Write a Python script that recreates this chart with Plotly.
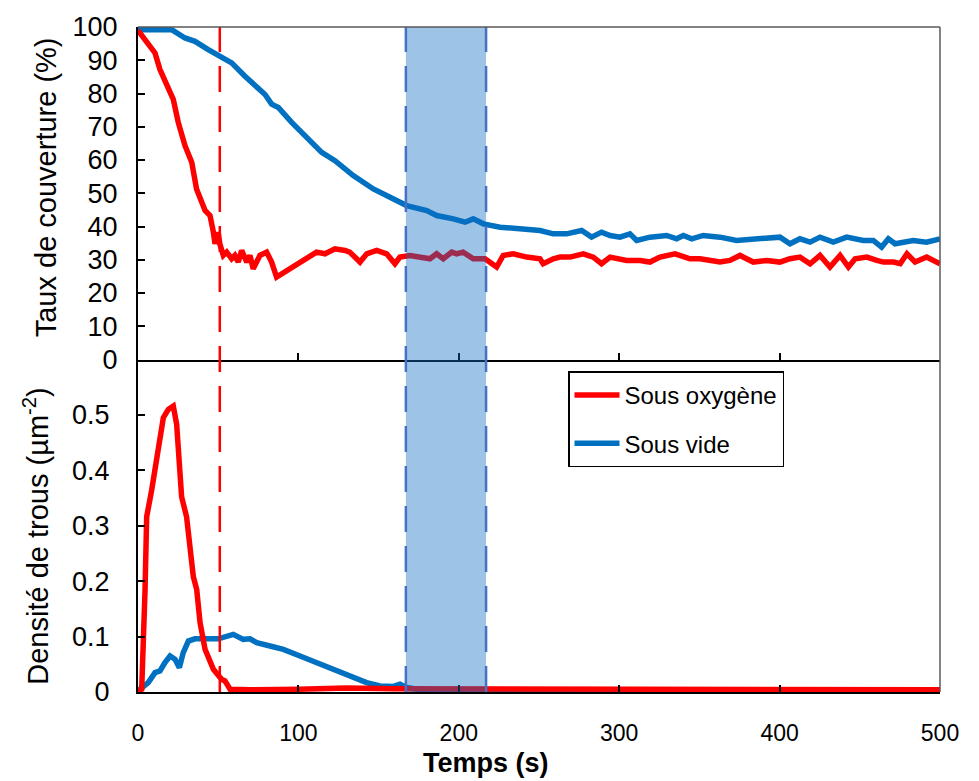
import plotly.graph_objects as go
from plotly.subplots import make_subplots

# ---------------- data ----------------
red_top_t = [0, 2.3, 6.4, 10.6, 13.7, 18.9, 22, 25.1, 29.3, 33.5,
             36.5, 41.8, 44.9, 47, 48, 50, 51, 53.2, 55.3, 58.4,
             60.4, 62.5, 64.6, 67.8, 69.8, 71.8, 76, 80.2, 83.3, 86.4,
             91.6, 102, 111.3, 116.6, 122.8, 129, 132, 138.4, 142.6, 148.8,
             155, 160.2, 163.3, 169.6, 175.8, 182, 186.2, 190.3, 195.6, 198.7,
             202.7, 209, 216.3, 223.6, 227.7, 234, 242.3, 250.6, 252.6, 258.9,
             263.1, 269.3, 277.6, 283.8, 289, 294.3, 304.6, 313, 319.2, 325.4,
             334.8, 344.1, 350.4, 356.6, 362.8, 369, 375.3, 383.6, 392, 400.2,
             406.5, 412.7, 419, 425.2, 431.4, 437.7, 442.9, 447.1, 454.4, 460.6,
             464.8, 471, 475.2, 479.4, 484.5, 491.7, 500]
red_top_v = [99, 97.5, 95.2, 92.2, 87.2, 81.2, 78.2, 71.3, 64.3, 59.3,
             51.3, 44.8, 43.3, 38.3, 34.8, 38.3, 34.8, 31.3, 32.3, 30.3,
             31.3, 29.3, 32.8, 29.3, 31.3, 27.3, 31.3, 32.3, 29.3, 24.8,
             26.3, 29.3, 32.3, 31.8, 33.3, 32.8, 32.3, 29.3, 31.8, 32.8,
             31.8, 28.8, 30.8, 31.3, 30.8, 30.3, 31.8, 30.3, 32.3, 31.8,
             32.3, 30.3, 30.3, 27.8, 31.3, 31.8, 30.8, 30.3, 28.8, 30.3,
             30.8, 30.8, 31.8, 30.8, 28.8, 30.8, 29.8, 29.8, 29.3, 30.8,
             31.8, 30.3, 30.3, 29.8, 29.3, 29.8, 31.3, 29.3, 29.8, 29.3,
             30.3, 30.8, 28.8, 31.3, 27.8, 31.3, 27.8, 30.3, 30.8, 29.8,
             29.3, 29.3, 28.8, 31.8, 29.3, 30.8, 28.8]

blue_top_t = [0, 21, 29.3, 35.5, 43.8, 51.1, 58.4, 66.7, 75, 79.2,
              83.3, 87.5, 95.8, 106.2, 114.5, 122.8, 134.2, 146.7, 157.1, 167.5,
              180, 186.2, 196.6, 203.9, 209, 215.3, 225.7, 240.2, 250.6, 258.9,
              267.2, 276.6, 282.8, 289, 294.3, 300.5, 306.7, 310.9, 319.2, 329.6,
              335.8, 340, 345.2, 352.4, 362.8, 373.2, 387.8, 400.2, 406.5, 412.7,
              419, 425.2, 433.5, 441.8, 452.2, 458.4, 463.6, 467.8, 472, 483.3,
              491.6, 500]
blue_top_v = [99.2, 99.2, 96.7, 95.7, 93.2, 91.2, 89.2, 85.2, 81.7, 79.7,
              76.8, 75.8, 71.3, 66.3, 62.3, 59.8, 55.3, 51.3, 48.8, 46.3,
              44.8, 43.3, 42.3, 41.3, 42.3, 40.8, 39.8, 39.3, 38.8, 37.8,
              37.8, 38.8, 36.8, 38.3, 37.3, 36.8, 37.8, 35.8, 36.8, 37.3,
              36.3, 37.3, 36.3, 37.3, 36.8, 35.8, 36.3, 36.8, 34.8, 36.3,
              35.3, 36.8, 35.3, 36.8, 35.8, 35.8, 33.8, 36.3, 34.8, 35.8,
              35.3, 36.3]

red_bot_t = [0, 2.3, 4.4, 5.4, 8.5, 12.7, 15.8, 18.9, 22, 24.1,
             26.2, 27.2, 30.3, 32.4, 34.5, 36.6, 38.7, 41.8, 47, 52.1,
             54.2, 57.4, 70, 100, 130, 160, 200, 250, 300, 350,
             400, 450, 475, 500]
red_bot_v = [0, 0.005, 0.185, 0.316, 0.364, 0.441, 0.495, 0.51, 0.516, 0.483,
             0.394, 0.352, 0.316, 0.256, 0.208, 0.185, 0.125, 0.077, 0.041, 0.023,
             0.02, 0.005, 0.004, 0.005, 0.007, 0.006, 0.006, 0.005, 0.005, 0.005,
             0.005, 0.005, 0.005, 0.004]

blue_bot_t = [0, 6.4, 10.6, 13.7, 16.8, 20, 23.1, 25.8, 28.2, 31.4,
              35.5, 50, 59.4, 65.6, 69.8, 74, 82.3, 90.6, 101, 111.4,
              121.8, 132.2, 142.5, 150.9, 159.2, 163.3, 167.5, 175.8, 200, 250,
              300, 350, 400, 450, 500]
blue_bot_v = [0.002, 0.017, 0.035, 0.038, 0.053, 0.065, 0.059, 0.044, 0.071, 0.092,
              0.096, 0.096, 0.104, 0.095, 0.096, 0.089, 0.083, 0.077, 0.065, 0.053,
              0.041, 0.029, 0.017, 0.011, 0.010, 0.014, 0.008, 0.004, 0.002, 0.002,
              0.002, 0.002, 0.002, 0.002, 0.002]

series_names = ["Sous oxygène", "Sous vide"]
red_marker_t = 51          # red dashed line (s)
band_t = [167, 217]        # shaded window (s)

x_ticks = [0, 100, 200, 300, 400, 500]
top_ticks = [0, 10, 20, 30, 40, 50, 60, 70, 80, 90, 100]
bot_ticks = [0, 0.1, 0.2, 0.3, 0.4, 0.5]

RED = "#FF0000"
BLUE = "#0070C0"
FONT = "Liberation Sans, Arial, sans-serif"
LW = 5.5

fig = make_subplots(rows=2, cols=1, shared_xaxes=True, vertical_spacing=0)

# top plot
fig.add_trace(go.Scatter(x=blue_top_t, y=blue_top_v, mode="lines", name=series_names[1],
                         line=dict(color=BLUE, width=LW), legendgroup="b", legendrank=2,
                         showlegend=True), row=1, col=1)
fig.add_trace(go.Scatter(x=red_top_t, y=red_top_v, mode="lines", name=series_names[0],
                         line=dict(color=RED, width=LW), legendgroup="a", legendrank=1,
                         showlegend=True), row=1, col=1)
# bottom plot
fig.add_trace(go.Scatter(x=blue_bot_t, y=blue_bot_v, mode="lines", name=series_names[1],
                         line=dict(color=BLUE, width=LW), legendgroup="b",
                         showlegend=False), row=2, col=1)
fig.add_trace(go.Scatter(x=red_bot_t, y=red_bot_v, mode="lines", name=series_names[0],
                         line=dict(color=RED, width=LW), legendgroup="a",
                         showlegend=False), row=2, col=1)

axis_common = dict(showgrid=False, zeroline=False, showline=True, linecolor="black",
                   linewidth=2, ticks="inside", ticklen=7, tickwidth=1.5, tickcolor="black",
                   tickfont=dict(family=FONT, size=23, color="black"))

fig.update_xaxes(**axis_common)
fig.update_xaxes(range=[0, 500], tickvals=x_ticks, row=1, col=1, showticklabels=False)
fig.update_xaxes(range=[0, 500], tickvals=x_ticks, row=2, col=1, ticklabelstandoff=19)

fig.update_yaxes(**axis_common)
fig.update_yaxes(range=[0, 100], tickvals=top_ticks, row=1, col=1,
                 tickfont=dict(family=FONT, size=27, color="black"), ticklabelstandoff=13)
fig.update_yaxes(range=[0, 0.6], tickvals=bot_ticks, ticktext=[str(v) if v else "0" for v in bot_ticks],
                 row=2, col=1, tickfont=dict(family=FONT, size=27, color="black"),
                 ticklabelstandoff=21)

shapes = []
# shaded window
shapes.append(dict(type="rect", xref="x", yref="paper", x0=band_t[0], x1=band_t[1], y0=0, y1=1,
                   fillcolor="rgba(17,110,195,0.41)", line=dict(width=0), layer="above"))
for t in band_t:
    shapes.append(dict(type="line", xref="x", yref="paper", x0=t, x1=t, y0=0, y1=1,
                       line=dict(color="#4472C4", width=2.5, dash="26px,14px"), layer="above"))
shapes.append(dict(type="line", xref="x", yref="paper", x0=red_marker_t, x1=red_marker_t,
                   y0=0, y1=1, line=dict(color=RED, width=2.5, dash="26px,14px"), layer="above"))
# grey frame (top and right)
shapes.append(dict(type="line", xref="paper", yref="paper", x0=0, x1=1, y0=1, y1=1,
                   line=dict(color="#595959", width=1.5), layer="above"))
shapes.append(dict(type="line", xref="paper", yref="paper", x0=1, x1=1, y0=0, y1=1,
                   line=dict(color="#595959", width=1.5), layer="above"))

annotations = [
    dict(text="Taux de couverture (%)", xref="paper", yref="paper",
         x=(46 - 138) / 802, y=(692 - 185) / 668, textangle=-90, showarrow=False,
         font=dict(family=FONT, size=29, color="black"), xanchor="center", yanchor="middle"),
    dict(text="Densité de trous (µm<sup>-2</sup>)", xref="paper", yref="paper",
         x=(36 - 138) / 802, y=(692 - 536) / 668, textangle=-90, showarrow=False,
         font=dict(family=FONT, size=29, color="black"), xanchor="center", yanchor="middle"),
    dict(text="<b>Temps (s)</b>", xref="paper", yref="paper",
         x=(486 - 138) / 802, y=(692 - 763) / 668, showarrow=False,
         font=dict(family=FONT, size=27, color="black"),
         xanchor="center", yanchor="middle"),
]

fig.update_layout(
    width=979, height=781,
    margin=dict(l=138, r=39, t=24, b=89),
    paper_bgcolor="white", plot_bgcolor="white",
    shapes=shapes, annotations=annotations,
    legend=dict(x=(568 - 138) / 802, y=(692 - 370) / 668, xanchor="left", yanchor="top",
                bgcolor="white", bordercolor="black", borderwidth=1.5,
                font=dict(family=FONT, size=24, color="black"),
                traceorder="grouped", tracegroupgap=14, itemwidth=45),
    font=dict(family=FONT),
)

fig.write_html("out.html")
